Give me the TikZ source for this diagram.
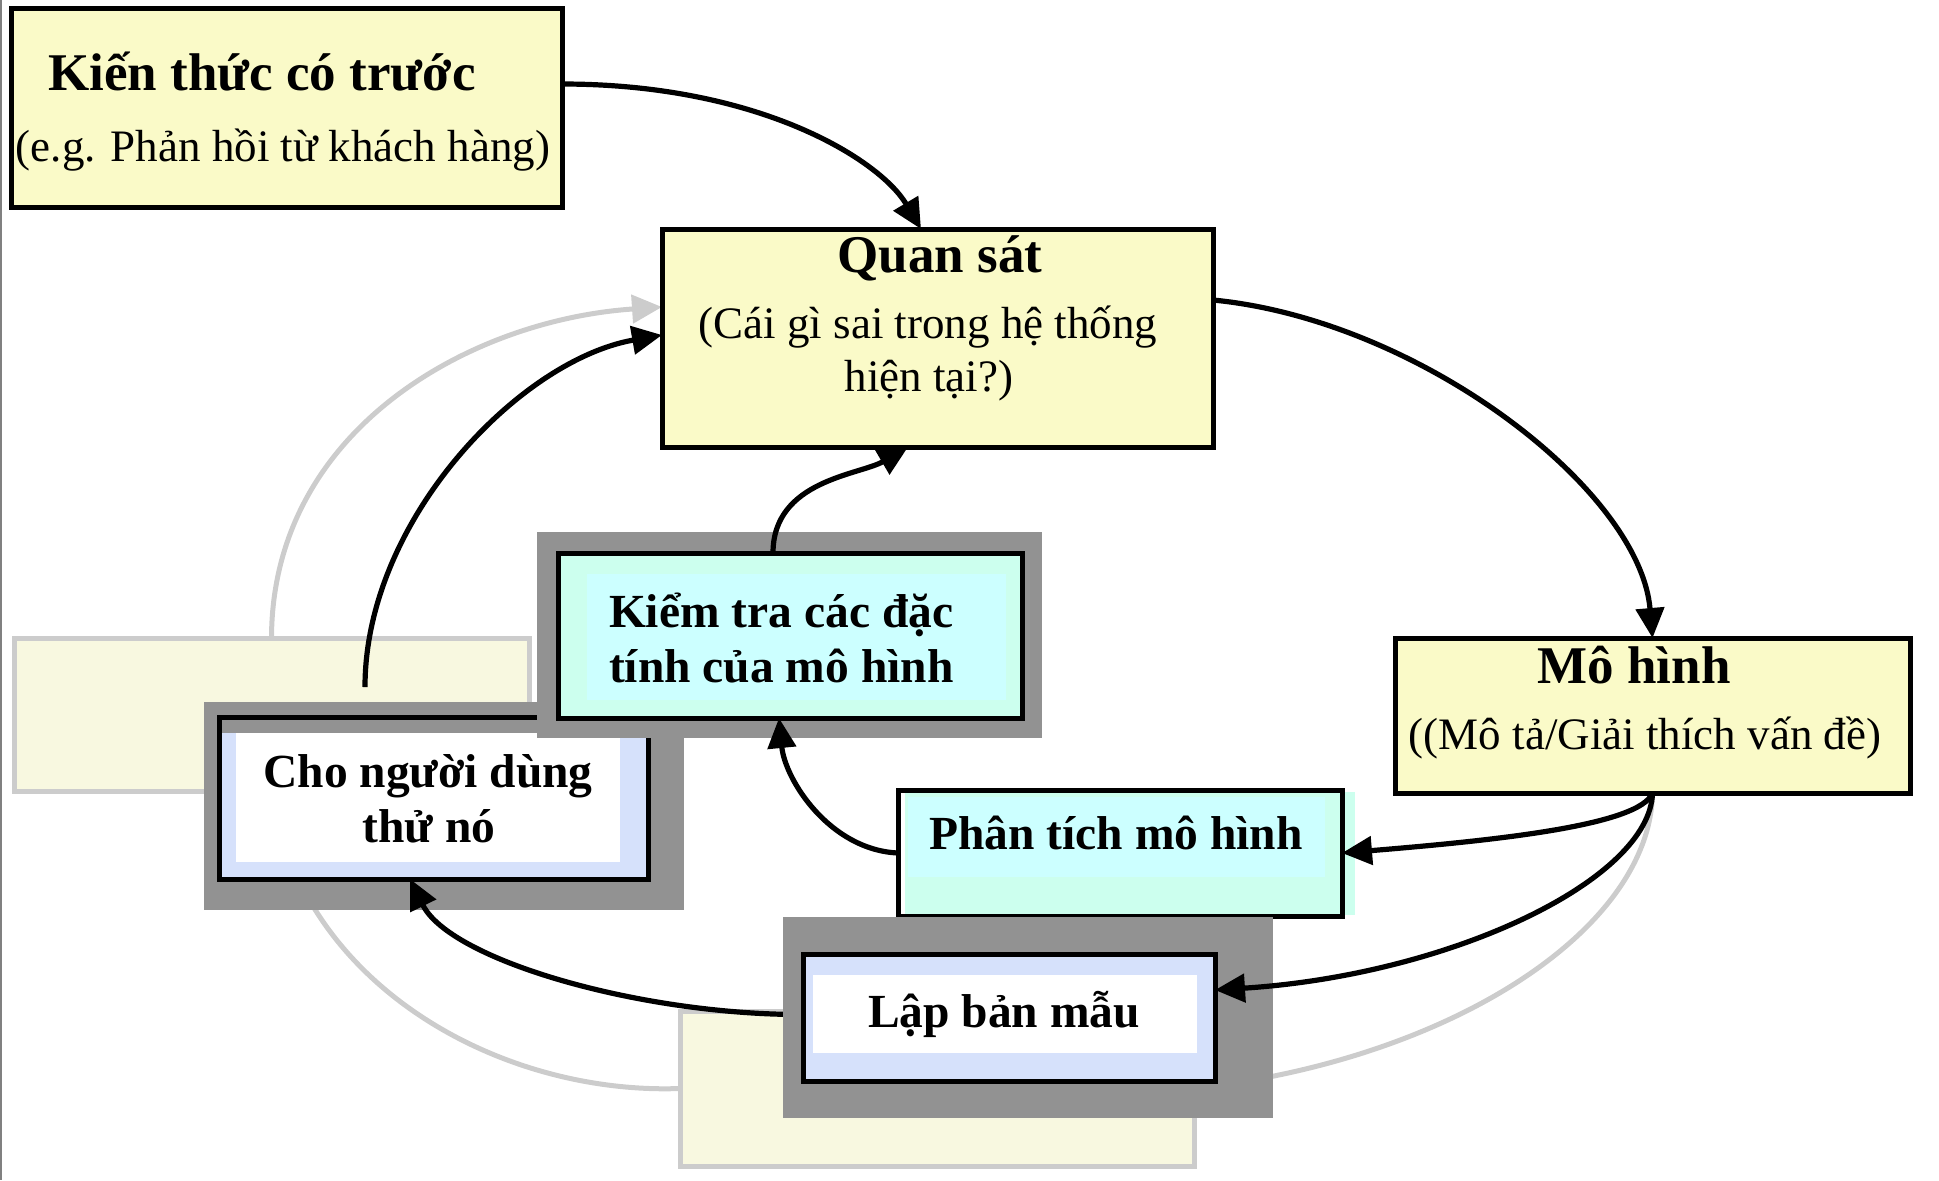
\documentclass[tikz,border=0pt]{standalone}
\usepackage{fontspec}
\setmainfont{Liberation Serif}
\usetikzlibrary{arrows.meta,fit,calc}

\definecolor{boxyellow}{RGB}{250,250,200}
\definecolor{ghostfill}{RGB}{248,248,224}
\definecolor{ghostline}{RGB}{204,204,204}
\definecolor{shadowgray}{RGB}{146,146,146}
\definecolor{mint}{RGB}{204,255,238}
\definecolor{palecyan}{RGB}{204,255,255}
\definecolor{paleblue}{RGB}{214,225,251}
\definecolor{edgegray}{RGB}{128,128,128}

\pgfdeclarelayer{ghost}
\pgfdeclarelayer{lowlink}
\pgfdeclarelayer{userbox}
\pgfdeclarelayer{checkbox}
\pgfdeclarelayer{midlink}
\pgfsetlayers{ghost,lowlink,userbox,checkbox,midlink,main}

\begin{document}
\begin{tikzpicture}[x=0.5pt,y=-0.5pt,
  flatnode/.style={inner sep=0pt, outer sep=0pt},
  mainbox/.style={flatnode, draw=black, line width=2.5pt, fill=boxyellow},
  framebox/.style={flatnode, draw=black, line width=2.5pt},
  ghostbox/.style={flatnode, draw=ghostline, line width=2.5pt, fill=ghostfill},
  arrowlink/.style={draw=black, line width=2.6pt, -{Triangle[length=15pt,width=14pt]}},
  ghostlink/.style={draw=ghostline, line width=2.5pt},
  titletxt/.style={flatnode, anchor=base, font=\fontsize{26.5}{30}\selectfont\bfseries},
  subtxt/.style={flatnode, anchor=base, font=\fontsize{22.5}{26}\selectfont},
  steptxt/.style={flatnode, anchor=base, font=\fontsize{23.75}{27}\selectfont\bfseries},
]
\useasboundingbox (0,0) rectangle (1939,1180);

% ---------- faint earlier cycle ----------
\begin{pgfonlayer}{ghost}
  \draw[edgegray, line width=1pt] (1,0) -- (1,1180);
  \node[ghostbox, fit={(14,638) (529,791)}] (oldL) {};
  \node[ghostbox, fit={(680,1011) (1194,1166)}] (oldB) {};
\end{pgfonlayer}

% ---------- user test box ----------
\begin{pgfonlayer}{userbox}
  \fill[shadowgray] (204,702) rectangle (684,910);
  \fill[paleblue] (219,733) rectangle (648,879);
  \fill[white] (236,733) rectangle (620,862);
  \node[framebox, fit={(219,717) (648,879)}] (E) {};
  \node[steptxt] (Et1) at (428,787) {Cho người dùng};
  \node[steptxt] (Et2) at (429,842) {thử nó};
\end{pgfonlayer}

% ---------- property check box ----------
\begin{pgfonlayer}{checkbox}
  \fill[shadowgray] (537,532) rectangle (1042,738);
  \fill[mint] (558,553) rectangle (1022,718);
  \fill[palecyan] (587,574) rectangle (1006,700);
  \node[framebox, fit={(558,553) (1022,718)}] (D) {};
  \node[steptxt, anchor=base west] (Dt1) at (609,627) {Kiểm tra các đặc};
  \node[steptxt, anchor=base west] (Dt2) at (609,682) {tính của mô hình};
\end{pgfonlayer}

% ---------- analysis box ----------
\fill[mint] (905,792) rectangle (1355,915);
\fill[palecyan] (908,797) rectangle (1325,877);
\node[framebox, fit={(898,790) (1342,916)}] (G) {};
\node[steptxt] (Gt) at (1116,849) {Phân tích mô hình};

% ---------- prototype box ----------
\fill[shadowgray] (783,917) rectangle (1273,1118);
\fill[paleblue] (803,954) rectangle (1215,1081);
\fill[white] (813,975) rectangle (1197,1053);
\node[framebox, fit={(803,954) (1215,1081)}] (F) {};
\node[steptxt] (Ft) at (1004,1027) {Lập bản mẫu};

% ---------- main yellow boxes ----------
\node[mainbox, fit={(11,8) (562,207)}] (A) {};
\node[titletxt] (At) at (262,90) {Kiến thức có trước};
\node[subtxt] (As) at (283,161) {(e.g. Phản hồi từ khách hàng)};

\node[mainbox, fit={(662,229) (1213,447)}] (B) {};
\node[titletxt] (Bt) at (940,272) {Quan sát};
\node[subtxt] (Bs1) at (928,338) {(Cái gì sai trong hệ thống};
\node[subtxt] (Bs2) at (929,391) {hiện tại?)};

\node[mainbox, fit={(1395,638) (1910,793)}] (C) {};
\node[titletxt] (Ct) at (1634,683) {Mô hình};
\node[subtxt] (Cs) at (1645,749) {((Mô tả/Giải thích vấn đề)};

% ---------- connectors ----------
\begin{pgfonlayer}{ghost}
  \draw[ghostlink, -{Triangle[length=15pt,width=14pt]}] (oldL.north)
    .. controls (272,430) and (470,320) .. ($(B.west)+(0,-31)$);
  \draw[ghostlink] (oldB.west) .. controls (500,1095) and (300,985) .. (oldL.south);
  \draw[ghostlink] (C.south) .. controls (1650,930) and (1450,1060) .. (oldB.east);
\end{pgfonlayer}

\begin{pgfonlayer}{lowlink}
  \draw[arrowlink] ($(E.north)+(-68.5,-30)$) .. controls (365,520) and (520,360) .. ($(B.west)+(0,-3)$);
\end{pgfonlayer}

\begin{pgfonlayer}{midlink}
  \draw[arrowlink] ($(F.west)+(0,-3)$) .. controls (640,1015) and (450,960) .. ($(E.south)+(-23.5,0)$);
  \draw[arrowlink] ($(D.north)+(-17,0)$) .. controls (773,480) and (860,475) .. ($(B.south)+(-29.5,0)$);
  \draw[arrowlink] (G.west) .. controls (830,850) and (785,780) .. ($(D.south)+(-11,0)$);
\end{pgfonlayer}

\draw[arrowlink] ($(A.east)+(0,-23.5)$) .. controls (760,84) and (880,160) .. ($(B.north)+(-16.5,0)$);
\draw[arrowlink] ($(B.east)+(0,-38)$) .. controls (1420,320) and (1640,490) .. (C.north);
\draw[arrowlink] (C.south) .. controls (1640,825) and (1500,840) .. (G.east);
\draw[arrowlink] (C.south) .. controls (1650,880) and (1450,975) .. ($(F.east)+(0,-27.5)$);

\end{tikzpicture}
\end{document}
